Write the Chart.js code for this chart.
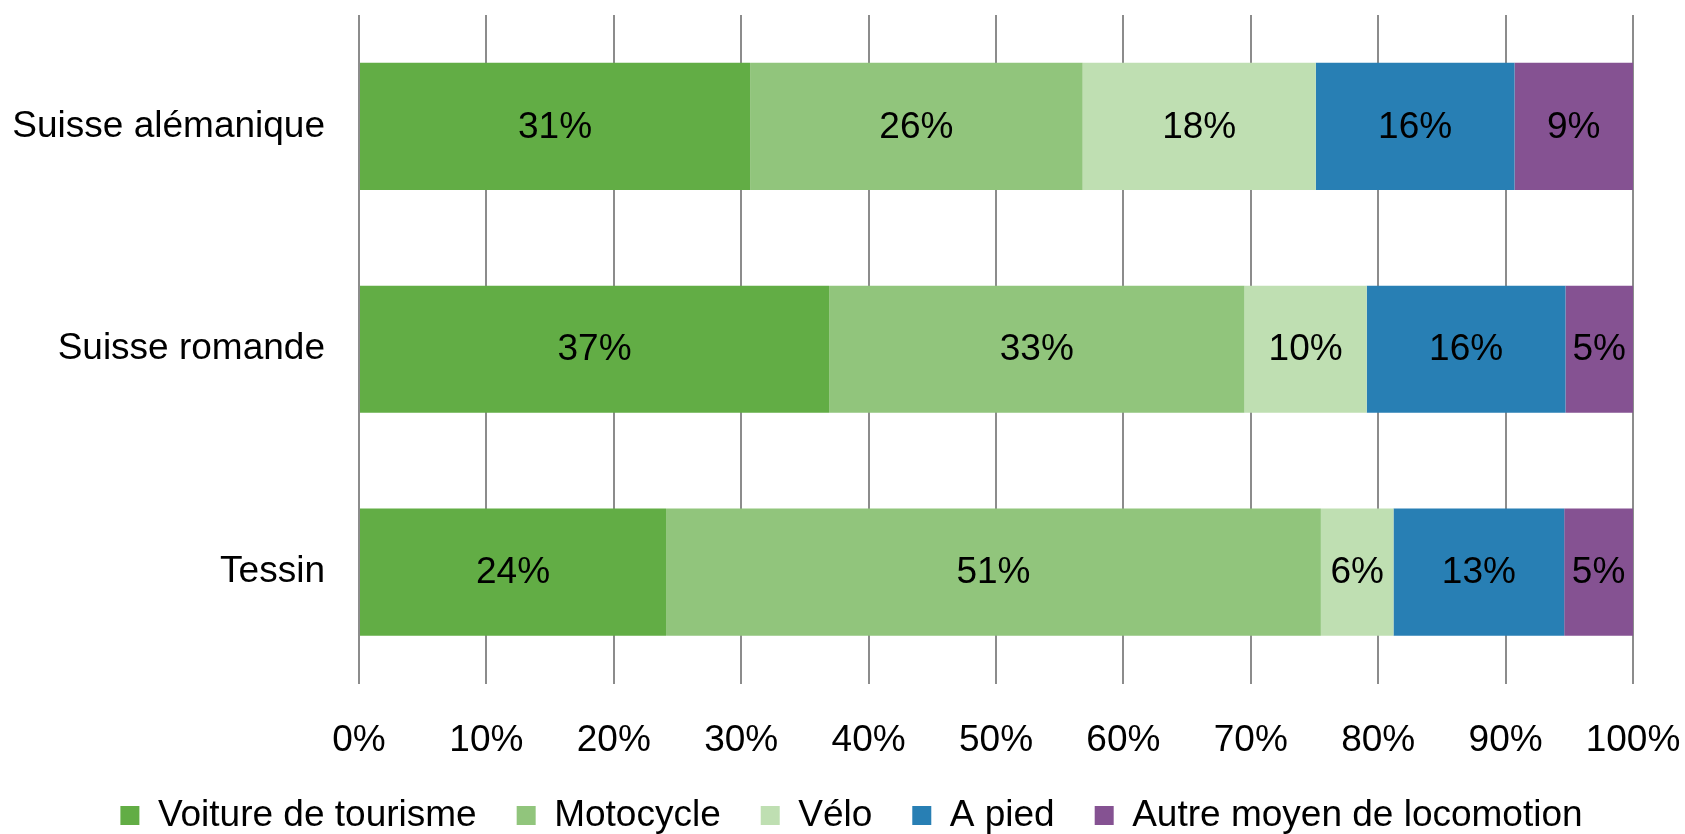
<!DOCTYPE html>
<html>
<head>
<meta charset="utf-8">
<script src="https://cdn.jsdelivr.net/npm/chart.js@4/dist/chart.umd.min.js"></script>
<style>
  html, body { margin: 0; padding: 0; background: #ffffff; }
  #wrap { width: 1685px; height: 834px; }
</style>
</head>
<body>
<div id="wrap"><canvas id="c" width="1685" height="834"></canvas></div>
<script>
const categories = ['Suisse alémanique', 'Suisse romande', 'Tessin'];
const seriesNames = ['Voiture de tourisme', 'Motocycle', 'Vélo', 'A pied', 'Autre moyen de locomotion'];
const voiture = [30.7, 36.9, 24.1];
const motocycle = [26.1, 32.6, 51.4];
const velo = [18.3, 9.6, 5.7];
const aPied = [15.6, 15.6, 13.4];
const autre = [9.3, 5.3, 5.4];
const xTickValues = [0, 10, 20, 30, 40, 50, 60, 70, 80, 90, 100];
const seriesColors = ['#62AD45', '#91C57C', '#BFDFB2', '#287FB4', '#855292'];

const FONT = '"Liberation Sans", Arial, sans-serif';
const FS = 37;

const seriesValues = [voiture, motocycle, velo, aPied, autre];

const dataLabelPlugin = {
  id: 'segmentLabels',
  afterDatasetsDraw(chart) {
    const ctx = chart.ctx;
    ctx.save();
    ctx.font = FS + 'px ' + FONT;
    ctx.fillStyle = '#000000';
    ctx.textAlign = 'center';
    ctx.textBaseline = 'middle';
    chart.data.datasets.forEach((ds, di) => {
      const meta = chart.getDatasetMeta(di);
      meta.data.forEach((el, i) => {
        const p = el.getProps(['x', 'y', 'base'], true);
        const cx = (p.x + p.base) / 2;
        ctx.fillText(Math.round(ds.data[i]) + '%', cx, p.y + 1);
      });
    });
    ctx.restore();
  }
};

// shift the legend horizontally so it sits where the reference legend sits
const legendShift = {
  id: 'legendShift',
  afterLayout(chart) {
    if (chart.legend) {
      chart.legend.left += 35;
      chart.legend.right += 35;
    }
  }
};

new Chart(document.getElementById('c'), {
  type: 'bar',
  data: {
    labels: categories,
    datasets: seriesNames.map((name, k) => ({
      label: name,
      data: seriesValues[k],
      backgroundColor: seriesColors[k],
      borderWidth: 0,
      barPercentage: 1,
      categoryPercentage: 0.571
    }))
  },
  options: {
    indexAxis: 'y',
    responsive: false,
    devicePixelRatio: 1,
    animation: false,
    layout: { padding: { top: 15, right: 52, bottom: -10, left: 0 } },
    plugins: {
      tooltip: { enabled: false },
      legend: {
        position: 'bottom',
        labels: {
          boxWidth: 19,
          boxHeight: 19,
          padding: 40,
          color: '#000000',
          font: { family: FONT, size: FS }
        }
      }
    },
    scales: {
      x: {
        stacked: true,
        min: 0,
        max: 100,
        afterBuildTicks(scale) { scale.ticks = xTickValues.map(v => ({ value: v })); },
        afterFit(scale) {
          scale.height = 73.5;
          scale.paddingLeft = 0;
          scale.paddingRight = 0;
        },
        grid: { color: '#8C8C8C', lineWidth: 2, drawTicks: false },
        border: { display: false },
        ticks: {
          padding: 35,
          color: '#000000',
          font: { family: FONT, size: FS },
          maxRotation: 0,
          callback: v => v + '%'
        }
      },
      y: {
        stacked: true,
        afterFit(scale) {
          scale.width = 359;
          scale.paddingTop = 0;
          scale.paddingBottom = 0;
        },
        grid: { display: false, drawTicks: false },
        border: { display: false },
        ticks: {
          padding: 34,
          color: '#000000',
          font: { family: FONT, size: FS }
        }
      }
    }
  },
  plugins: [dataLabelPlugin, legendShift]
});
</script>
</body>
</html>
